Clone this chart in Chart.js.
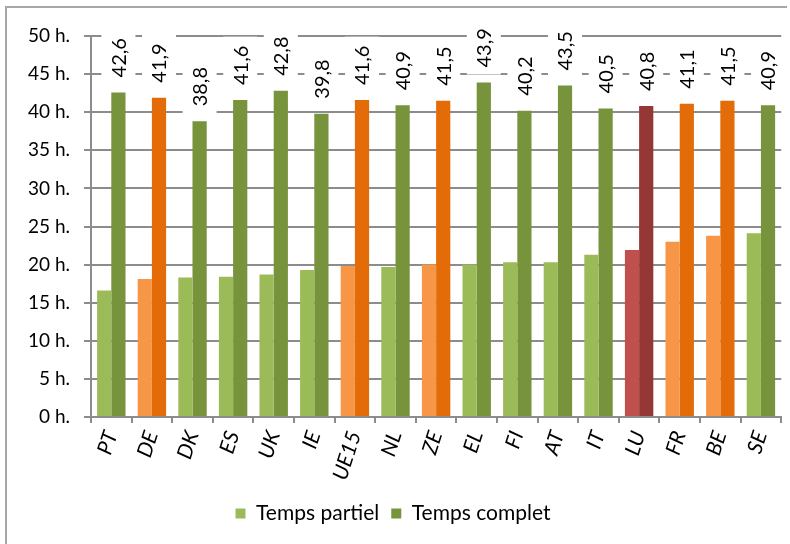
<!DOCTYPE html>
<html>
<head>
<meta charset="utf-8">
<script src="https://cdn.jsdelivr.net/npm/chart.js@4"></script>
<style>
  body { margin: 0; background: #fff; }
  #wrap { width: 790px; height: 544px; position: relative; }
</style>
</head>
<body>
<div id="wrap"><canvas id="chart" width="790" height="544"></canvas></div>
<script>
// data
const categories = ['PT', 'DE', 'DK', 'ES', 'UK', 'IE', 'UE15', 'NL', 'ZE', 'EL', 'FI', 'AT', 'IT', 'LU', 'FR', 'BE', 'SE'];
const partiel = [16.6, 18.1, 18.3, 18.4, 18.7, 19.3, 19.8, 19.7, 20.0, 20.0, 20.3, 20.3, 21.3, 21.9, 23.0, 23.8, 24.1];
const complet = [42.6, 41.9, 38.8, 41.6, 42.8, 39.8, 41.6, 40.9, 41.5, 43.9, 40.2, 43.5, 40.5, 40.8, 41.1, 41.5, 40.9];
const orangeCats = ['DE', 'UE15', 'ZE', 'FR', 'BE'];
const redCats = ['LU'];
const seriesNames = ['Temps partiel', 'Temps complet'];

const GRID = '#8c8c8c';
const FONT = 'Lato';

// colours per bar (highlighted countries get orange / red)
function pickColors(light) {
  return categories.map(c => {
    if (redCats.includes(c)) return light ? '#c0504d' : '#953735';
    if (orangeCats.includes(c)) return light ? '#f79646' : '#e36c09';
    return light ? '#9bbb59' : '#77933c';
  });
}

// value labels on the full-time bars, rotated, on a white box
const valueLabels = {
  id: 'valueLabels',
  afterDatasetsDraw(chart) {
    const ctx = chart.ctx;
    const meta = chart.getDatasetMeta(1);
    ctx.save();
    ctx.font = '20px ' + FONT;
    meta.data.forEach((bar, i) => {
      const txt = complet[i].toFixed(1).replace('.', ',');
      const w = ctx.measureText(txt).width;
      const start = bar.y - 15;
      ctx.fillStyle = '#fff';
      ctx.fillRect(bar.x - 17, start - w - 9, 34, w + 16);
      ctx.save();
      ctx.translate(bar.x, start);
      ctx.rotate(-Math.PI / 2);
      ctx.fillStyle = '#000';
      ctx.textAlign = 'left';
      ctx.textBaseline = 'middle';
      ctx.fillText(txt, 0, 1);
      ctx.restore();
    });
    ctx.restore();
  }
};

// thin frame on the left and top like the original
const frame = {
  id: 'frame',
  afterDraw(chart) {
    const ctx = chart.ctx;
    ctx.save();
    ctx.strokeStyle = '#a6a6a6';
    ctx.lineWidth = 2;
    ctx.beginPath();
    ctx.moveTo(6, 544);
    ctx.lineTo(6, 7);
    ctx.lineTo(787, 7);
    ctx.stroke();
    ctx.restore();
  }
};

const ctx = document.getElementById('chart').getContext('2d');
const chart = new Chart(ctx, {
  type: 'bar',
  data: {
    labels: categories,
    datasets: [
      { label: seriesNames[0], data: partiel, backgroundColor: pickColors(true) },
      { label: seriesNames[1], data: complet, backgroundColor: pickColors(false) }
    ]
  },
  options: {
    responsive: false,
    animation: false,
    devicePixelRatio: 1,
    categoryPercentage: 0.7,
    barPercentage: 1,
    layout: { padding: { top: 36, right: 4, left: 0, bottom: 10 } },
    plugins: {
      tooltip: { enabled: false },
      legend: {
        position: 'bottom',
        labels: {
          font: { family: FONT, size: 21 },
          color: '#000',
          boxWidth: 10,
          boxHeight: 10,
          padding: 12,
          generateLabels: () => [
            { text: seriesNames[0], fillStyle: '#9bbb59', strokeStyle: '#9bbb59', lineWidth: 0, datasetIndex: 0 },
            { text: seriesNames[1], fillStyle: '#77933c', strokeStyle: '#77933c', lineWidth: 0, datasetIndex: 1 }
          ]
        }
      }
    },
    scales: {
      x: {
        afterFit: s => { s.height = 74; },
        grid: { drawOnChartArea: false, drawTicks: true, tickLength: 6, color: GRID, lineWidth: 2 },
        border: { color: GRID, width: 2 },
        ticks: {
          minRotation: 72,
          maxRotation: 72,
          padding: 5,
          color: '#000',
          font: { family: FONT, size: 21, style: 'italic' }
        }
      },
      y: {
        min: 0,
        max: 50,
        afterFit: s => { s.width = 91; },
        grid: { color: GRID, lineWidth: 2, tickLength: 7 },
        border: { color: GRID, width: 2 },
        ticks: {
          stepSize: 5,
          padding: 14,
          color: '#000',
          font: { family: FONT, size: 19 },
          callback: v => v + ' h.'
        }
      }
    }
  },
  plugins: [valueLabels, frame]
});
</script>
</body>
</html>
